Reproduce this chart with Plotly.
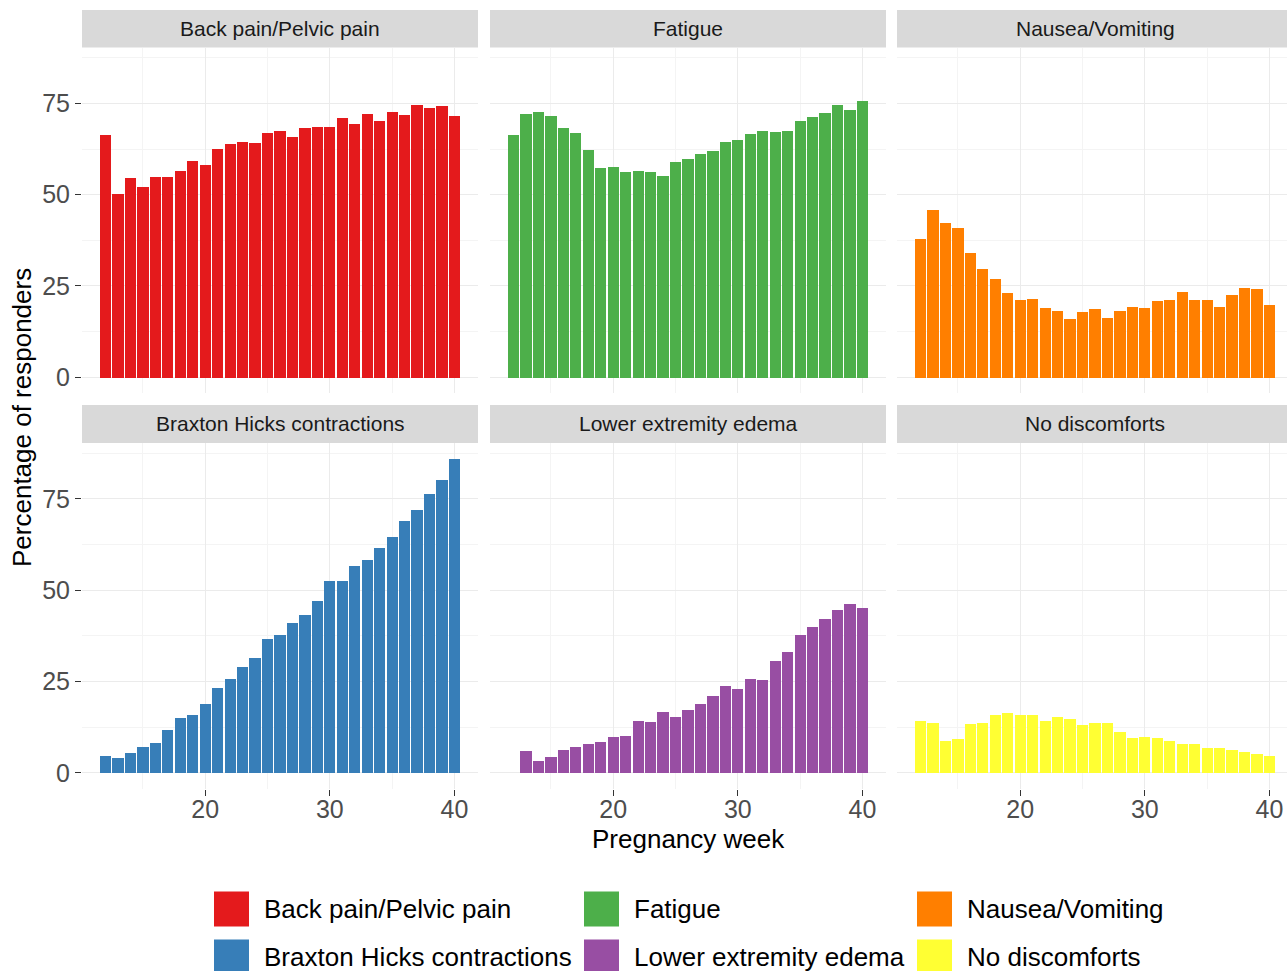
import plotly.graph_objects as go

# Pregnancy weeks covered by the survey
weeks = list(range(12, 41))

# Share of responders (%) reporting each discomfort, per pregnancy week
back_pain = [66.6, 50.3, 54.8, 52.3, 55.1, 55.1, 56.7, 59.4, 58.4, 62.7, 63.9, 64.7, 64.4, 66.9, 67.6,
             66.0, 68.4, 68.8, 68.6, 71.0, 69.6, 72.2, 70.4, 72.9, 71.9, 74.6, 73.9, 74.5, 71.6]
fatigue = [66.6, 72.1, 72.7, 71.7, 68.5, 67.0, 62.4, 57.5, 57.6, 56.3, 56.5, 56.3, 55.3, 59.0, 59.8,
           61.2, 62.1, 64.5, 65.2, 66.7, 67.7, 67.2, 67.7, 70.3, 71.5, 72.6, 74.7, 73.2, 75.8]
nausea = [38.0, 46.0, 42.5, 41.1, 34.3, 29.8, 27.0, 23.2, 21.4, 21.7, 19.0, 18.2, 16.1, 18.0, 18.9,
          16.5, 18.2, 19.3, 19.0, 21.1, 21.2, 23.4, 21.4, 21.4, 19.4, 22.7, 24.5, 24.4, 19.9]
braxton = [4.6, 4.1, 5.3, 7.0, 8.1, 11.8, 14.9, 15.8, 18.8, 23.1, 25.7, 29.0, 31.3, 36.6, 37.7,
           41.0, 43.3, 47.1, 52.5, 52.5, 56.6, 58.4, 61.6, 64.7, 68.9, 72.0, 76.3, 80.1, 86.0]
edema = [None, 6.0, 3.3, 4.3, 6.2, 7.0, 8.0, 8.3, 9.7, 10.2, 14.3, 14.0, 16.7, 15.2, 17.1,
         18.8, 20.9, 23.8, 22.9, 25.7, 25.5, 30.7, 33.2, 37.8, 39.8, 42.0, 44.7, 46.3, 45.2]
no_discomfort = [14.2, 13.7, 8.6, 9.2, 13.4, 13.7, 15.8, 16.3, 15.7, 15.9, 14.1, 15.4, 14.6, 13.2, 13.5,
                 13.5, 11.2, 9.5, 9.9, 9.4, 8.8, 7.8, 7.9, 6.9, 6.8, 6.2, 5.6, 5.1, 4.5]

categories = ["Back pain/Pelvic pain", "Fatigue", "Nausea/Vomiting",
              "Braxton Hicks contractions", "Lower extremity edema", "No discomforts"]
series = [back_pain, fatigue, nausea, braxton, edema, no_discomfort]
colors = ["#E41A1C", "#4DAF4A", "#FF7F00", "#377EB8", "#984EA3", "#FFFF33"]

W, H = 1287, 971
FONT = "Liberation Sans, Arial, sans-serif"


def px(x):
    return x / W


def py(y):
    return 1 - y / H


# panel geometry in pixels
col_x = [(82, 478), (490, 886), (897, 1287)]
row_y = [(47.5, 393), (443, 788.5)]
strip_y = [(10, 47.5), (405, 443)]
col_centers = [280, 688, 1095]
x_unit = 396 / 31.79
x_ranges = [[10.105, 41.895], [10.105, 41.895], [10.105, 10.105 + (1287 - 897) / x_unit]]
y_range = [-4.3, 90.3]

grid_major = "#EBEBEB"
grid_minor = "#F4F4F4"

fig = go.Figure()
layout = dict(
    width=W, height=H,
    margin=dict(l=0, r=0, t=0, b=0),
    paper_bgcolor="white", plot_bgcolor="white",
    showlegend=False, bargap=0,
    font=dict(family=FONT),
)
shapes = []
annotations = []

for i, (name, vals, col) in enumerate(zip(categories, series, colors)):
    r, c = divmod(i, 3)
    idx = i + 1
    xa = "x" if idx == 1 else f"x{idx}"
    ya = "y" if idx == 1 else f"y{idx}"
    fig.add_trace(go.Bar(
        x=weeks, y=vals, name=name, width=0.9,
        marker=dict(color=col, line=dict(width=0)),
        xaxis=xa, yaxis=ya,
    ))
    bottom = r == 1
    left = c == 0
    layout["xaxis" if idx == 1 else f"xaxis{idx}"] = dict(
        domain=[px(col_x[c][0]), px(col_x[c][1])],
        anchor=ya, range=x_ranges[c],
        tick0=0, dtick=10,
        showgrid=True, gridcolor=grid_major, gridwidth=1.4,
        minor=dict(dtick=5, tick0=0, showgrid=True, gridcolor=grid_minor, gridwidth=0.8),
        zeroline=False, showline=False,
        showticklabels=bottom,
        ticks="outside" if bottom else "", ticklen=6, tickwidth=1.4, tickcolor="#333333",
        ticklabelstandoff=-8,
        tickfont=dict(size=25, color="#4D4D4D", family=FONT),
        fixedrange=True,
    )
    layout["yaxis" if idx == 1 else f"yaxis{idx}"] = dict(
        domain=[py(row_y[r][1]), py(row_y[r][0])],
        anchor=xa, range=y_range,
        tick0=0, dtick=25,
        showgrid=True, gridcolor=grid_major, gridwidth=1.4,
        minor=dict(dtick=12.5, tick0=0, showgrid=True, gridcolor=grid_minor, gridwidth=0.8),
        zeroline=False, showline=False,
        showticklabels=left,
        ticks="outside" if left else "", ticklen=6, tickwidth=1.4, tickcolor="#333333",
        tickfont=dict(size=25, color="#4D4D4D", family=FONT),
        fixedrange=True,
    )
    # facet strip
    x1 = col_x[c][1] if c < 2 else 1293
    shapes.append(dict(
        type="rect", xref="paper", yref="paper",
        x0=px(col_x[c][0]), x1=px(min(x1, W)),
        y0=py(strip_y[r][1]), y1=py(strip_y[r][0]),
        fillcolor="#D9D9D9", line=dict(width=0), layer="below",
    ))
    annotations.append(dict(
        text=name, xref="paper", yref="paper",
        x=px(col_centers[c]), y=py((strip_y[r][0] + strip_y[r][1]) / 2),
        xanchor="center", yanchor="middle", showarrow=False,
        font=dict(size=21, color="#1A1A1A", family=FONT),
    ))

# axis titles
annotations.append(dict(
    text="Pregnancy week", xref="paper", yref="paper",
    x=px(688), y=py(839), xanchor="center", yanchor="middle", showarrow=False,
    font=dict(size=26, color="black", family=FONT),
))
annotations.append(dict(
    text="Percentage of responders", xref="paper", yref="paper",
    x=px(22), y=py(418), xanchor="center", yanchor="middle", showarrow=False,
    textangle=-90, font=dict(size=26, color="black", family=FONT),
))

# legend: 2 rows x 3 columns of colour keys
key_x = [214, 584, 917]
key_y = [909, 957]
key = 35
for i, (name, col) in enumerate(zip(categories, colors)):
    r, c = divmod(i, 3)
    cx, cy = key_x[c], key_y[r]
    shapes.append(dict(
        type="rect", xref="paper", yref="paper",
        x0=px(cx), x1=px(cx + key), y0=py(cy + key / 2), y1=py(cy - key / 2),
        fillcolor=col, line=dict(width=0),
    ))
    annotations.append(dict(
        text=name, xref="paper", yref="paper",
        x=px(cx + key + 13), y=py(cy), xanchor="left", yanchor="middle", showarrow=False,
        font=dict(size=26, color="black", family=FONT),
    ))

layout["shapes"] = shapes
layout["annotations"] = annotations
fig.update_layout(**layout)

fig.write_html("out.html", config={"displayModeBar": False})
